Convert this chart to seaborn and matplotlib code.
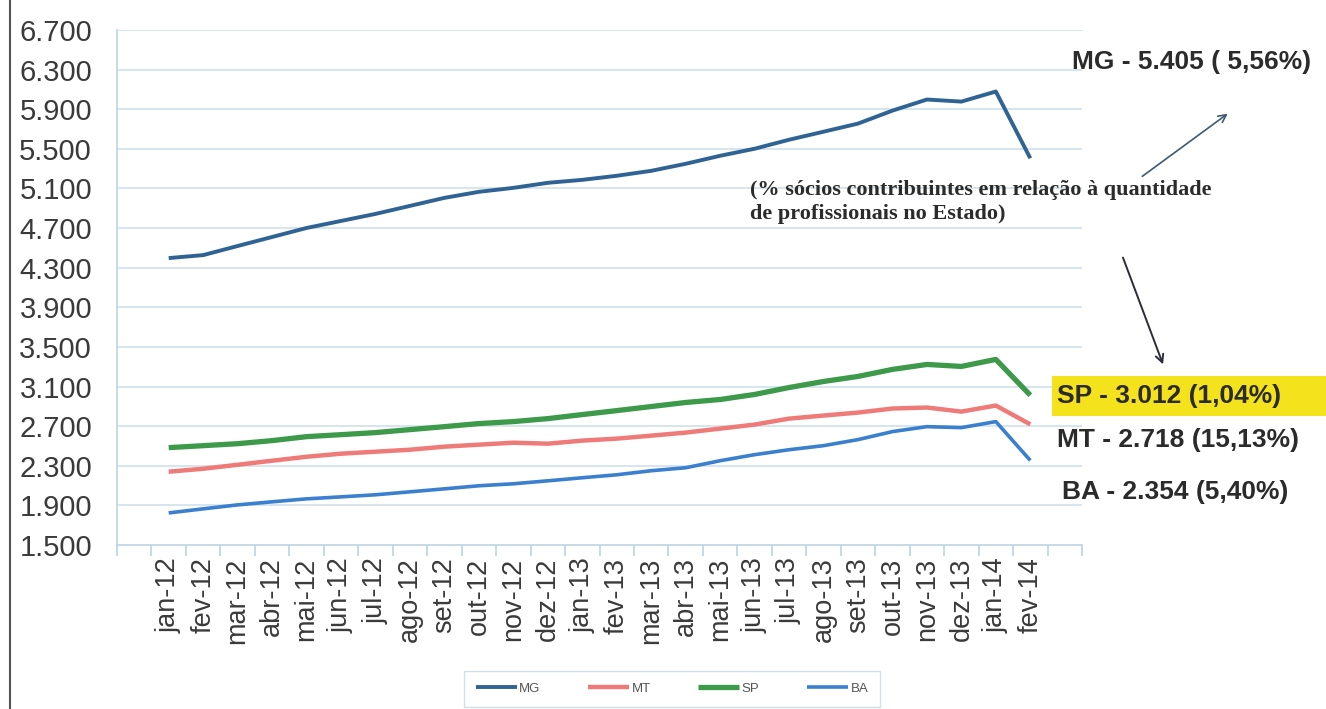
import numpy as np
import pandas as pd
import matplotlib
matplotlib.use("Agg")
import matplotlib.pyplot as plt
from matplotlib.patches import Rectangle, FancyArrowPatch
from matplotlib.lines import Line2D
import seaborn as sns

months = ["jan-12", "fev-12", "mar-12", "abr-12", "mai-12", "jun-12", "jul-12",
          "ago-12", "set-12", "out-12", "nov-12", "dez-12", "jan-13", "fev-13",
          "mar-13", "abr-13", "mai-13", "jun-13", "jul-13", "ago-13", "set-13",
          "out-13", "nov-13", "dez-13", "jan-14", "fev-14"]

mg = [4397, 4427, 4519, 4610, 4701, 4772, 4843, 4924, 5005, 5066, 5106, 5157,
      5187, 5228, 5278, 5349, 5430, 5501, 5592, 5673, 5755, 5886, 5998, 5977,
      6079, 5405]
mt = [2240, 2270, 2310, 2351, 2391, 2422, 2442, 2462, 2493, 2513, 2533, 2523,
      2554, 2574, 2604, 2635, 2675, 2716, 2776, 2807, 2837, 2878, 2888, 2847,
      2908, 2718]
sp = [2483, 2503, 2523, 2554, 2594, 2614, 2635, 2665, 2695, 2726, 2746, 2776,
      2817, 2857, 2898, 2939, 2969, 3020, 3090, 3151, 3202, 3273, 3323, 3303,
      3374, 3012]
ba = [1824, 1865, 1905, 1936, 1966, 1986, 2007, 2037, 2067, 2098, 2118, 2148,
      2179, 2209, 2250, 2280, 2351, 2412, 2462, 2503, 2564, 2645, 2695, 2685,
      2746, 2354]

series_names = ["MG", "MT", "SP", "BA"]
yticks = [1500, 1900, 2300, 2700, 3100, 3500, 3900, 4300, 4700, 5100, 5500, 5900, 6300, 6700]
ytick_labels = ["1.500", "1.900", "2.300", "2.700", "3.100", "3.500", "3.900",
                "4.300", "4.700", "5.100", "5.500", "5.900", "6.300", "6.700"]

note_text = "(% sócios contribuintes em relação à quantidade\nde profissionais no Estado)"
label_mg = "MG - 5.405 ( 5,56%)"
label_sp = "SP - 3.012 (1,04%)"
label_mt = "MT - 2.718 (15,13%)"
label_ba = "BA - 2.354 (5,40%)"

df = pd.DataFrame({
    "pos": list(range(len(months))) * 4,
    "value": mg + mt + sp + ba,
    "estado": sum([[s] * len(months) for s in series_names], []),
})

sns.set_theme(style="white")
plt.rcParams["font.family"] = ["Liberation Sans", "DejaVu Sans"]

W, H = 1326, 709
fig = plt.figure(figsize=(W / 100, H / 100), dpi=100)
L, R, T, B = 117, 1082, 30, 545
ax = fig.add_axes([L / W, 1 - B / H, (R - L) / W, (B - T) / H])

colors = {"MG": "#2f6394", "MT": "#ef7b78", "SP": "#3c9a4a", "BA": "#3a80cf"}
widths = {"MG": 2.8, "MT": 3.2, "SP": 3.8, "BA": 2.6}
for s in series_names:
    sub = df[df["estado"] == s]
    sns.lineplot(data=sub, x="pos", y="value", color=colors[s], linewidth=widths[s],
                 label=s, ax=ax, solid_capstyle="butt")

ax.set_xlim(-1.5, 26.5)
ax.set_ylim(1500, 6700)
ax.set_yticks(yticks)
ax.set_yticklabels(ytick_labels)
ax.set_xticks(range(len(months)))
ax.set_xticklabels(months, rotation=90)
ax.set_xticks(np.arange(-1.5, 27, 1.0), minor=True)
ax.set_xlabel("")
ax.set_ylabel("")

grid_c = "#cfe0ec"
for y in yticks[1:]:
    ax.axhline(y, color=grid_c, lw=1.2, zorder=0)

for sp_name in ["top", "right"]:
    ax.spines[sp_name].set_visible(False)
ax.spines["left"].set_color("#bcd3e4")
ax.spines["bottom"].set_color("#bcd3e4")
ax.spines["left"].set_linewidth(1.2)
ax.spines["bottom"].set_linewidth(1.2)

ax.tick_params(axis="y", length=0, pad=18, labelsize=21, labelcolor="#3a3a3a")
ax.tick_params(axis="x", which="major", length=0, pad=9, labelsize=19.5, labelcolor="#3a3a3a")
ax.tick_params(axis="x", which="minor", length=8, color="#bcd3e4", width=1.2, bottom=True)
ax.patch.set_alpha(0)

leg = ax.legend(loc="upper center", bbox_to_anchor=(672 / W, 1 - 664 / H), bbox_transform=fig.transFigure,
                ncol=4, fontsize=9.5, frameon=True, fancybox=False, handlelength=3.1,
                columnspacing=3.6, handletextpad=0.2, borderpad=0.9)
leg.get_frame().set_edgecolor("#c6d8e6")
leg.get_frame().set_linewidth(1.0)
for t in leg.get_texts():
    t.set_color("#555555")

txt_c = "#2b2b2b"
fig.text(1311 / W, 1 - 62 / H, label_mg, ha="right", va="center", fontsize=19,
         fontweight="bold", color=txt_c)
fig.text(750 / W, 1 - 180 / H, note_text, ha="left", va="top", fontsize=16,
         fontweight="bold", color=txt_c, family=["Liberation Serif", "DejaVu Serif"],
         linespacing=1.3)

fig.patches.append(Rectangle((1052 / W, 1 - 416 / H), (W - 1052) / W, 40 / H,
                             transform=fig.transFigure, facecolor="#f4e21c",
                             edgecolor="none", zorder=0))
fig.text(1057 / W, 1 - 396 / H, label_sp, ha="left", va="center", fontsize=19,
         fontweight="bold", color=txt_c)
fig.text(1057 / W, 1 - 440 / H, label_mt, ha="left", va="center", fontsize=19,
         fontweight="bold", color=txt_c)
fig.text(1062 / W, 1 - 492 / H, label_ba, ha="left", va="center", fontsize=19,
         fontweight="bold", color=txt_c)

arr1 = FancyArrowPatch((1140 / W, 1 - 178 / H), (1230 / W, 1 - 112 / H),
                       transform=fig.transFigure, arrowstyle="->", mutation_scale=14,
                       color="#3d5a70", lw=1.2)
arr2 = FancyArrowPatch((1122 / W, 1 - 255 / H), (1164 / W, 1 - 367 / H),
                       transform=fig.transFigure, arrowstyle="->", mutation_scale=14,
                       color="#2b2b3b", lw=1.4)
fig.patches.extend([arr1, arr2])

fig.lines.append(Line2D([10 / W, 10 / W], [0, 1], transform=fig.transFigure,
                        color="#555555", lw=1.5))

fig.savefig("out.png", dpi=100)
